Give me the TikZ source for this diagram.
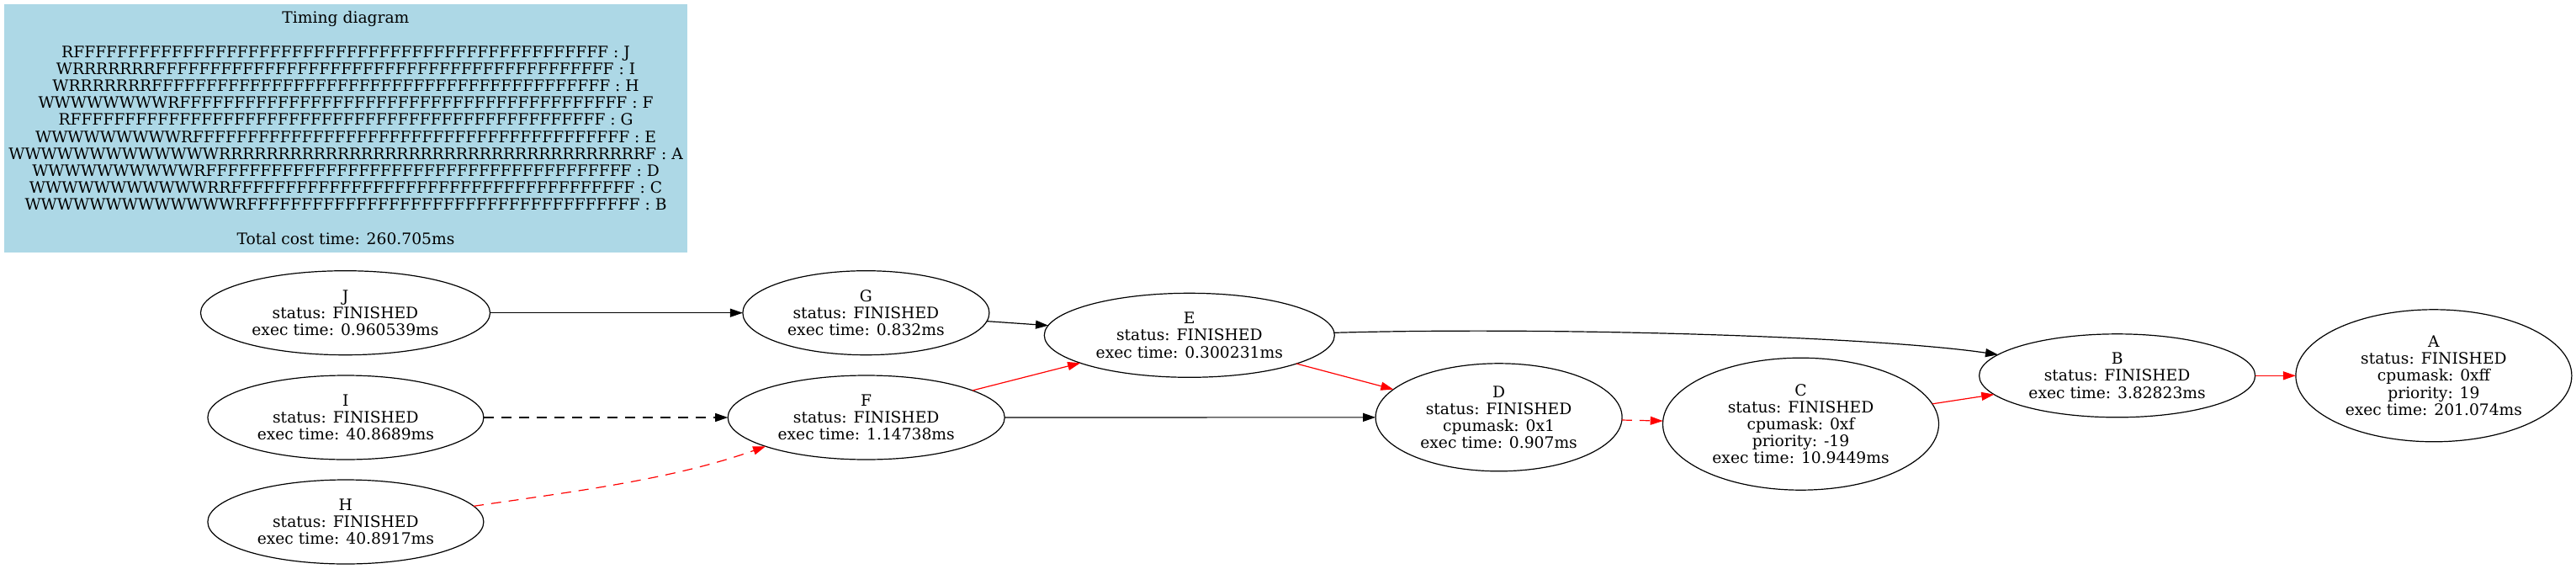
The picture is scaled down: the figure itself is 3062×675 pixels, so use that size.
\documentclass[tikz,border=0pt]{standalone}
\usepackage{fontspec}
\setmainfont{DejaVu Serif}
\usetikzlibrary{arrows.meta,shapes.geometric}
\ExplSyntaxOn
\cs_new:Npn \tdrep #1#2 { \prg_replicate:nn {#1} {#2} }
\ExplSyntaxOff
\definecolor{lightblue}{HTML}{ADD8E6}
\newcommand\tdfont{\fontsize{18.7}{20.2}\selectfont}
\begin{document}
\begin{tikzpicture}[x=1pt,y=-1pt,
  task/.style={draw, ellipse, line width=1.2pt, inner sep=0pt, outer sep=0pt, align=center, font=\tdfont},
  conn/.style={line width=1.2pt, -{Triangle[length=15pt,width=10pt]}},
  crit/.style={conn, draw=red},
  dsh/.style={dash pattern=on 12pt off 9pt}]
\useasboundingbox (0,0) rectangle (3062,675);
\node[fill=lightblue, minimum width=811.4pt, minimum height=295pt, inner sep=0pt, align=center, font=\tdfont] (timing) at (411,152)
{Timing diagram\\[20.2pt]
\tdrep{1}{R}\tdrep{49}{F} : J\\
W\tdrep{7}{R}\tdrep{42}{F} : I\\
W\tdrep{7}{R}\tdrep{42}{F} : H\\
\tdrep{8}{W}R\tdrep{41}{F} : F\\
R\tdrep{49}{F} : G\\
\tdrep{9}{W}R\tdrep{40}{F} : E\\
\tdrep{13}{W}\tdrep{36}{R}F : A\\
\tdrep{10}{W}R\tdrep{39}{F} : D\\
\tdrep{11}{W}RR\tdrep{37}{F} : C\\
\tdrep{13}{W}R\tdrep{36}{F} : B\\[20.2pt]
Total cost time: 260.705ms};
\node[task, minimum width=344pt, minimum height=100pt] (J) at (410.5,371.7) {J\\status: FINISHED\\exec time: 0.960539ms};
\node[task, minimum width=293pt, minimum height=100pt] (G) at (1029.4,371.7) {G\\status: FINISHED\\exec time: 0.832ms};
\node[task, minimum width=328pt, minimum height=100pt] (I) at (410.9,496) {I\\status: FINISHED\\exec time: 40.8689ms};
\node[task, minimum width=329pt, minimum height=100pt] (F) at (1029.7,496) {F\\status: FINISHED\\exec time: 1.14738ms};
\node[task, minimum width=328pt, minimum height=100pt] (H) at (410.9,620) {H\\status: FINISHED\\exec time: 40.8917ms};
\node[task, minimum width=345pt, minimum height=100pt] (E) at (1413.8,398.3) {E\\status: FINISHED\\exec time: 0.300231ms};
\node[task, minimum width=293pt, minimum height=128pt] (D) at (1781.6,495.8) {D\\status: FINISHED\\cpumask: 0x1\\exec time: 0.907ms};
\node[task, minimum width=328pt, minimum height=157pt] (C) at (2140.5,503.7) {C\\status: FINISHED\\cpumask: 0xf\\priority: -19\\exec time: 10.9449ms};
\node[task, minimum width=328pt, minimum height=99pt] (B) at (2516.6,446.3) {B\\status: FINISHED\\exec time: 3.82823ms};
\node[task, minimum width=328pt, minimum height=157pt] (A) at (2892.9,446.3) {A\\status: FINISHED\\cpumask: 0xff\\priority: 19\\exec time: 201.074ms};
\draw[conn] (J) -- (G);
\draw[conn] (G) -- (E);
\draw[crit] (F) -- (E);
\draw[conn] (F) -- (D);
\draw[conn, dsh] (I) -- (F);
\draw[crit, dsh] (H.7) .. controls (681,584) and (798,570) .. (F.196.5);
\draw[crit] (E) -- (D);
\draw[crit, dsh] (D) -- (C);
\draw[crit] (C) -- (B);
\draw[crit] (B) -- (A);
\draw[conn] (E.1.5) .. controls (1850,388) and (2230,400) .. (B.170);
\end{tikzpicture}
\end{document}
